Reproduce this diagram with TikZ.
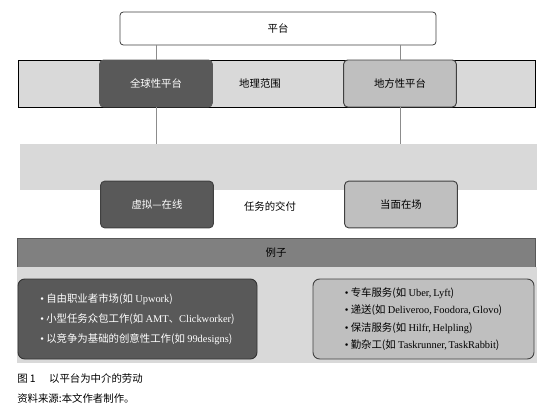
\documentclass[tikz,border=0pt]{standalone}
\usepackage{fontspec}
\setmainfont{Liberation Serif}
\newfontfamily\cjk{Noto Sans CJK SC}
\usepackage{tikz}
\usetikzlibrary{
  arrows.meta,
  positioning,
  calc
}
\definecolor{pfdark} {HTML}{595959}
\definecolor{pfmid}  {HTML}{BFBFBF}
\definecolor{pflight}{HTML}{D9D9D9}
\definecolor{pfbar}  {HTML}{808080}
\definecolor{pfedge} {HTML}{404040}
\definecolor{pfline} {HTML}{8C8C8C}
\newcommand{\lat}[1]{{\rmfamily #1}}
\newcommand{\itm}{{\rmfamily\textbullet}\ }

\begin{document}
\begin{tikzpicture}[
  x=0.75pt, y=-0.75pt,
  every node/.style={font=\cjk\fontsize{7.8}{9}\selectfont, inner sep=0pt},
  band/.style={rectangle, minimum width=387.75pt, minimum height=35.25pt, fill=pflight},
  box/.style={
    rectangle, rounded corners=3pt, minimum width=84.5pt, minimum height=35pt,
    text centered, line width=0.7pt
  },
  dark/.style={box, fill=pfdark, draw=pfdark, text=white},
  mid/.style={box, fill=pfmid, draw=pfedge},
  link/.style={draw=pfline, line width=0.5pt},
  exbox/.style={rectangle, rounded corners=5pt, minimum height=60pt, align=left, line width=0.7pt},
  caption/.style={anchor=west},
]
\useasboundingbox (0,0) rectangle (550,407);

% Platform
\node[box, fill=white, draw=pfedge, minimum width=237pt, minimum height=24.75pt,
  rounded corners=2.5pt, line width=0.6pt] (platform) at (278,28.5) {平台};

% Geographic scope
\node[band, draw=black, line width=0.5pt] (band1) at (276.5,83.5) {};
\node[dark, minimum height=35.25pt] (global) at (156,83.5) {全球性平台};
\node[mid, minimum height=35.25pt] (local) at (400,83.5) {地方性平台};
\node (geo) at (260,83.5) {地理范围};

% Delivery of tasks
\node[band, minimum height=34.5pt] (band2) at (278,167) {};
\node[dark, draw=pfedge] (online) at (157,204.5) {虚拟—在线};
\node[mid] (onsite) at (401,204.5) {当面在场};
\node (task) at (270,206.5) {任务的交付};

% Lines
\draw[link] (platform.south -| global) -- (global.north);
\draw[link] (platform.south -| local) -- (local.north);
\draw[link] (global.south) -- (global.south |- band2.north);
\draw[link] (local.south) -- (local.south |- band2.north);

% Examples
\node[rectangle, fill=pfbar, draw=pfdark, line width=0.6pt,
  minimum width=388.5pt, minimum height=21.75pt] (examples) at (276,252.5) {例子};
\node[band, minimum width=390pt, minimum height=72pt] (band3) at (277,315) {};
\node[exbox, fill=pfdark, draw=pfedge!80!black, text=white, minimum width=179.25pt,
  font=\cjk\fontsize{7.8}{15}\selectfont] (exonline) at (137.5,319)
  {\itm 自由职业者市场(如 \lat{Upwork})\\
   \itm 小型任务众包工作(如 \lat{AMT}、\lat{Clickworker})\\
   \itm 以竞争为基础的创意性工作(如 \lat{99designs})};
\node[exbox, fill=pfmid, draw=pfedge, minimum width=165.75pt,
  font=\cjk\fontsize{7.8}{13}\selectfont] (exonsite) at (423.5,319)
  {\itm 专车服务(如 \lat{Uber,\,Lyft})\\
   \itm 递送(如 \lat{Deliveroo,\,Foodora,\,Glovo})\\
   \itm 保洁服务(如 \lat{Hilfr,\,Helpling})\\
   \itm 勤杂工(如 \lat{Taskrunner,\,TaskRabbit})};

% Caption
\node[caption] (figtitle) at (17,379) {图 1\hspace{10pt}以平台为中介的劳动};
\node[caption] (figsource) at (17,399) {资料来源:本文作者制作。};
\end{tikzpicture}
\end{document}
